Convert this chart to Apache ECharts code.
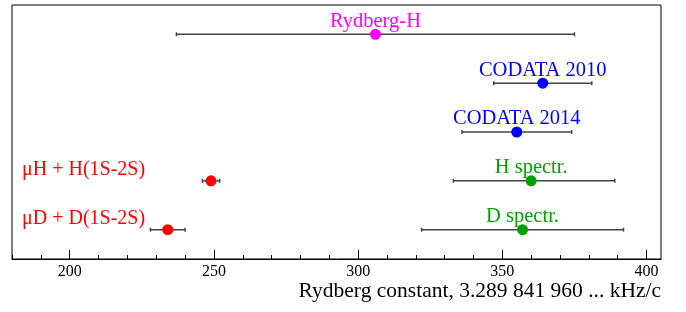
<!DOCTYPE html>
<html>
<head>
<meta charset="utf-8">
<script src="https://cdn.jsdelivr.net/npm/echarts@6/dist/echarts.min.js"></script>
<style>
  html, body { margin: 0; padding: 0; background: #fff; }
  #chart { width: 686px; height: 312px; }
</style>
</head>
<body>
<div id="chart"></div>
<script>
// values in kHz/c above 3.289 841 960 000 ...
const names = ['Rydberg-H', 'CODATA 2010', 'CODATA 2014', 'H spectr.', 'D spectr.', 'μH + H(1S-2S)', 'μD + D(1S-2S)'];
const centers = [306, 364, 355, 360, 357, 249, 234];
const lows = [237, 347, 336, 333, 322, 246, 228];
const highs = [375, 381, 374, 389, 392, 252, 240];
const rows = [4.6, 3.6, 2.6, 1.6, 0.6, 1.6, 0.6];
const colors = ['#ff00ff', '#0000ff', '#0000ff', '#00a000', '#00a000', '#ff0000', '#ff0000'];
const leftLabelled = [false, false, false, false, false, true, true];

const majorTicks = [200, 250, 300, 350, 400];
const minorTicks = [180, 190, 200, 210, 220, 230, 240, 250, 260, 270, 280, 290, 300, 310, 320, 330, 340, 350, 360, 370, 380, 390, 400];

const xMin = 180;
const xMax = 405;

const chart = echarts.init(document.getElementById('chart'));
const font = '"Liberation Serif", "DejaVu Serif", serif';

chart.setOption({
  animation: false,
  grid: { left: 12, right: 25, top: 5, bottom: 53, show: true, borderColor: '#000', borderWidth: 1 },
  xAxis: [
    {
      type: 'value', min: xMin, max: xMax,
      axisLine: { show: true, lineStyle: { color: '#000', width: 1 } },
      axisTick: { show: true, inside: true, length: 9, customValues: majorTicks, lineStyle: { color: '#000' } },
      axisLabel: { customValues: majorTicks, color: '#000', fontFamily: font, fontSize: 16, margin: 5 },
      splitLine: { show: false },
      name: 'Rydberg constant, 3.289 841 960 ... kHz/c',
      nameLocation: 'end',
      nameGap: 0,
      nameTextStyle: { color: '#000', fontFamily: font, fontSize: 21.5, align: 'right', verticalAlign: 'top', padding: [21, 0, 0, 0] }
    },
    {
      type: 'value', min: xMin, max: xMax, position: 'bottom',
      axisLine: { show: false },
      axisTick: { show: true, inside: true, length: 4, customValues: minorTicks, lineStyle: { color: '#000' } },
      axisLabel: { show: false },
      splitLine: { show: false }
    }
  ],
  yAxis: { type: 'value', min: 0, max: 5.2, show: false },
  series: [
    {
      type: 'custom',
      renderItem: (params, api) => {
        const y = api.value(2);
        const a = api.coord([api.value(0), y]);
        const b = api.coord([api.value(1), y]);
        const style = { stroke: '#444', lineWidth: 1.5 };
        return {
          type: 'group',
          children: [
            { type: 'line', shape: { x1: a[0], y1: a[1], x2: b[0], y2: b[1] }, style },
            { type: 'line', shape: { x1: a[0], y1: a[1] - 2, x2: a[0], y2: a[1] + 2 }, style },
            { type: 'line', shape: { x1: b[0], y1: b[1] - 2, x2: b[0], y2: b[1] + 2 }, style }
          ]
        };
      },
      data: names.map((n, i) => [lows[i], highs[i], rows[i]]),
      z: 2
    },
    {
      type: 'scatter',
      symbol: 'circle',
      symbolSize: 11,
      data: names.map((n, i) => ({
        value: [centers[i], rows[i]],
        itemStyle: { color: colors[i], opacity: 1 },
        label: {
          show: !leftLabelled[i],
          position: 'top',
          distance: -3,
          formatter: n,
          color: colors[i],
          fontFamily: font,
          fontSize: 20.5
        }
      })),
      z: 3
    },
    {
      type: 'scatter',
      symbolSize: 0,
      itemStyle: { opacity: 1 },
      data: names.map((n, i) => ({ name: n, i })).filter((d) => leftLabelled[d.i]).map((d) => ({
        value: [xMin, rows[d.i]],
        label: {
          show: true,
          position: 'right',
          distance: 10,
          offset: [0, -11],
          formatter: d.name,
          color: colors[d.i],
          fontFamily: font,
          fontSize: 20
        }
      })),
      z: 3
    }
  ]
});
</script>
</body>
</html>
